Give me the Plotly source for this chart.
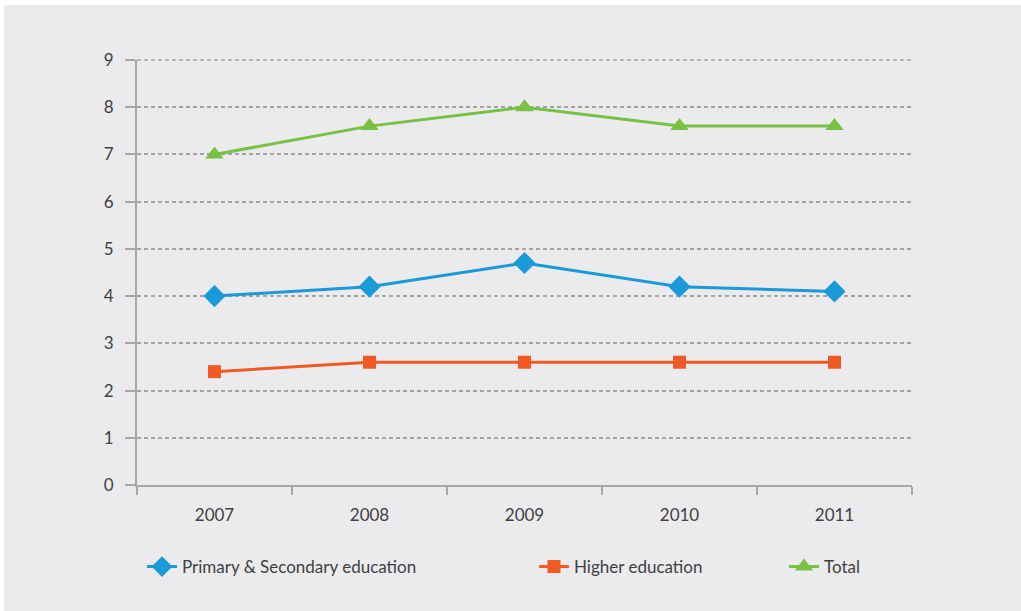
import plotly.graph_objects as go

years = ["2007", "2008", "2009", "2010", "2011"]
primary_secondary = [4.0, 4.2, 4.7, 4.2, 4.1]
higher = [2.4, 2.6, 2.6, 2.6, 2.6]
total = [7.0, 7.6, 8.0, 7.6, 7.6]

y_ticks = list(range(0, 10))

BLUE = "#1a9ad8"
ORANGE = "#f15a24"
GREEN = "#79c143"
AXIS = "#a7a7a9"
GRID = "#a3a3a5"
TEXT = "#414042"
BG = "#ebebed"

FONT = dict(family="Lato, Open Sans, sans-serif", size=17, color=TEXT)

fig = go.Figure()

fig.add_trace(go.Scatter(
    x=years, y=primary_secondary, name="Primary & Secondary education",
    mode="lines+markers", line=dict(color=BLUE, width=3),
    marker=dict(symbol="diamond", size=17, color=BLUE),
    legend="legend",
))
fig.add_trace(go.Scatter(
    x=years, y=higher, name="Higher education",
    mode="lines+markers", line=dict(color=ORANGE, width=3),
    marker=dict(symbol="square", size=13, color=ORANGE),
    legend="legend2",
))
fig.add_trace(go.Scatter(
    x=years, y=total, name="Total",
    mode="lines+markers", line=dict(color=GREEN, width=3),
    marker=dict(symbol="triangle-up", size=16, color=GREEN),
    legend="legend3",
))

W, H = 1021, 611
L, R, T, B = 137, 109, 60, 126
pw, ph = W - L - R, H - T - B


def px_x(px):
    return (px - L) / pw


def px_y(py):
    return (H - B - py) / ph


legend_common = dict(
    orientation="h", yanchor="middle", xanchor="left",
    bgcolor="rgba(0,0,0,0)", font=FONT, itemwidth=30,
    borderwidth=0,
)

fig.update_layout(
    width=W, height=H,
    margin=dict(l=L, r=R, t=T, b=B),
    paper_bgcolor="white",
    plot_bgcolor="rgba(0,0,0,0)",
    font=FONT,
    showlegend=True,
    legend=dict(x=px_x(142), y=px_y(567), **legend_common),
    legend2=dict(x=px_x(534), y=px_y(567), **legend_common),
    legend3=dict(x=px_x(784), y=px_y(567), **legend_common),
    xaxis=dict(
        type="category", range=[-0.5, 4.5],
        showgrid=False, showline=True, linecolor=AXIS, linewidth=2,
        ticks="outside", tickson="boundaries", ticklen=8, tickcolor=AXIS,
        tickwidth=1.5, tickfont=FONT, zeroline=False,
        ticklabelstandoff=14,
    ),
    yaxis=dict(
        range=[0, 9], tickvals=y_ticks, ticktext=[str(v) for v in y_ticks],
        showgrid=True, gridcolor=GRID, griddash="4px,3px", gridwidth=1.5,
        showline=True, linecolor=AXIS, linewidth=2,
        ticks="outside", ticklen=10, tickcolor=AXIS, tickwidth=1.5,
        tickfont=FONT, zeroline=False, ticklabelstandoff=8,
    ),
    shapes=[
        # grey panel behind everything
        dict(type="rect", xref="paper", yref="paper",
             x0=px_x(4), x1=px_x(W + 2), y0=px_y(H + 2), y1=px_y(5),
             fillcolor=BG, line=dict(width=0), layer="below"),
        # dashed gridline along the top edge of the plot area
        dict(type="line", xref="paper", yref="paper",
             x0=0, x1=1, y0=1, y1=1,
             line=dict(color=GRID, width=1.5, dash="4px,3px"), layer="below"),
        # y-axis line continues a little below zero
        dict(type="line", xref="paper", yref="paper",
             xsizemode="pixel", ysizemode="pixel", xanchor=0, yanchor=0,
             x0=0, x1=0, y0=0, y1=-8,
             line=dict(color=AXIS, width=2)),
    ],
)

fig.write_html("out.html")
